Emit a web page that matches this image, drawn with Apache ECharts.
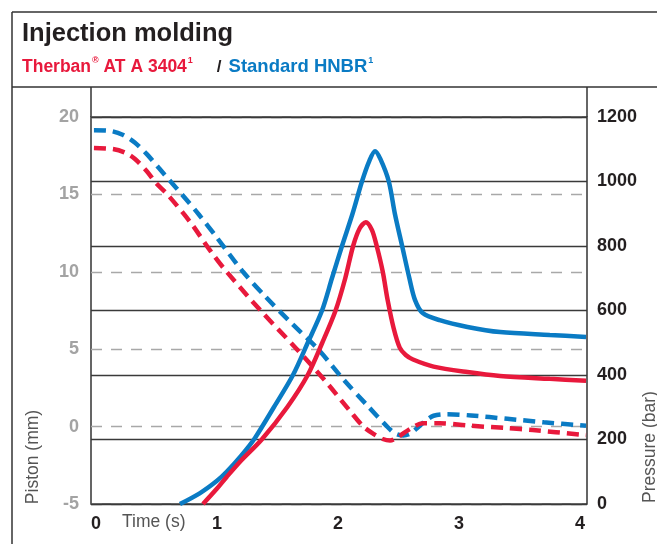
<!DOCTYPE html>
<html>
<head>
<meta charset="utf-8">
<script src="https://cdn.jsdelivr.net/npm/echarts@6/dist/echarts.min.js"></script>
<style>
html,body{margin:0;padding:0;background:#fff;}
#chart{width:657px;height:544px;}
</style>
</head>
<body>
<div id="chart"></div>
<script>
// ---- data ----
const xTickLabels = [0, 1, 2, 3, 4];
// Standard HNBR (blue) pressure, bar
const blueP_t = [0.694,0.86,1.0,1.08,1.2,1.314,1.47,1.628,1.75,1.868,1.95,2.033,2.12,2.198,2.26,2.306,2.35,2.42,2.47,2.53,2.59,2.636,2.70,2.84,3.07,3.34,3.75,4.05];
const blueP_v = [0,34,72,100,150,205,300,400,500,600,700,800,900,1000,1065,1094,1070,1000,900,800,700,633,592,570,549,533,524,518];
// Therban AT A 3404 (red) pressure, bar
const redP_t = [0.884,1.0,1.08,1.2,1.37,1.58,1.75,1.87,1.98,2.06,2.125,2.18,2.23,2.28,2.32,2.37,2.41,2.46,2.51,2.56,2.62,2.79,3.07,3.34,3.75,4.05];
const redP_v = [0,48,84,135,200,300,400,500,600,700,800,855,874,850,800,720,633,545,485,462,448,426,409,397,388,382];
// Standard HNBR (blue) piston, mm
const blueS_t = [-0.017,0.12,0.22,0.32,0.42,0.52,0.62,0.71,0.85,1.0,1.215,1.4,1.6,1.835,2.05,2.25,2.40,2.47,2.54,2.60,2.65,2.72,2.79,2.9,3.1,3.4,3.7,4.05];
const blueS_v = [19.15,19.1,18.85,18.35,17.6,16.7,15.8,15.0,13.7,12.2,10.0,8.4,6.8,5.0,3.0,1.3,0.05,-0.43,-0.58,-0.45,-0.12,0.35,0.7,0.8,0.72,0.5,0.28,0.05];
// Therban AT A 3404 (red) piston, mm
const redS_t = [-0.017,0.14,0.24,0.32,0.42,0.5,0.59,0.78,0.95,1.08,1.36,1.66,1.9,2.1,2.21,2.3,2.37,2.43,2.49,2.6,2.7,2.84,3.07,3.4,3.61,4.05];
const redS_v = [18.0,17.93,17.7,17.3,16.5,15.7,15.0,13.2,11.3,10.0,7.5,5.0,2.9,1.0,0.0,-0.5,-0.8,-0.9,-0.7,-0.13,0.22,0.22,0.07,-0.1,-0.22,-0.55];

const RED = '#e8193c';
const BLUE = '#0a7bc4';
const FONT = 'Liberation Sans, Arial, Helvetica, sans-serif';

function pairs(t, v){ return t.map((x,i)=>[x, v[i]]); }

const chart = echarts.init(document.getElementById('chart'));
const lineStyleFrame = {stroke:'#333', lineWidth:1.5};
chart.setOption({
  animation:false,
  backgroundColor:'#fff',
  grid:{left:91, right:70, top:117, bottom:40, show:true, borderColor:'#333', borderWidth:1.5, backgroundColor:'transparent'},
  xAxis:{
    type:'value', min:-0.0413, max:4.0579,
    axisLine:{show:false}, axisTick:{show:false}, splitLine:{show:false},
    axisLabel:{customValues:xTickLabels, color:'#231f20', fontWeight:'bold', fontSize:18, fontFamily:FONT, margin:11}
  },
  yAxis:[
    {type:'value', position:'left', min:-5, max:20, interval:5,
     axisLine:{show:false}, axisTick:{show:false},
     splitLine:{show:true, lineStyle:{color:'#a8a8a8', width:1.3, type:[11,9]}},
     axisLabel:{color:'#a3a3a3', fontWeight:'bold', fontSize:18, fontFamily:FONT, margin:12}},
    {type:'value', position:'right', min:0, max:1200, interval:200,
     axisLine:{show:false}, axisTick:{show:false},
     splitLine:{show:true, lineStyle:{color:'#3a3a3a', width:1.3}},
     axisLabel:{color:'#231f20', fontWeight:'bold', fontSize:18, fontFamily:FONT, margin:10,
       formatter:function(v){ return String(v); }}}
  ],
  series:[
    {type:'line', name:'Standard HNBR piston', yAxisIndex:0, data:pairs(blueS_t, blueS_v), smooth:0.3, showSymbol:false,
     lineStyle:{color:BLUE, width:4.5, type:[12,7]}, z:3},
    {type:'line', name:'Therban piston', yAxisIndex:0, data:pairs(redS_t, redS_v), smooth:0.3, showSymbol:false,
     lineStyle:{color:RED, width:4.5, type:[12,7]}, z:3},
    {type:'line', name:'Standard HNBR pressure', yAxisIndex:1, data:pairs(blueP_t, blueP_v), smooth:0.3, showSymbol:false,
     lineStyle:{color:BLUE, width:4.5}, z:4},
    {type:'line', name:'Therban pressure', yAxisIndex:1, data:pairs(redP_t, redP_v), smooth:0.3, showSymbol:false,
     lineStyle:{color:RED, width:4.5}, z:4}
  ],
  graphic:[
    {type:'line', shape:{x1:12, y1:12, x2:657, y2:12}, style:lineStyleFrame},
    {type:'line', shape:{x1:12, y1:12, x2:12, y2:544}, style:lineStyleFrame},
    {type:'line', shape:{x1:12, y1:87, x2:657, y2:87}, style:lineStyleFrame},
    {type:'line', shape:{x1:91, y1:87, x2:91, y2:117}, style:lineStyleFrame},
    {type:'line', shape:{x1:587, y1:87, x2:587, y2:117}, style:lineStyleFrame},
    {type:'text', left:22, top:21, style:{text:'Injection molding', fill:'#231f20', font:'bold 25.5px ' + FONT}},
    {type:'text', left:22, top:56, style:{
      text:'{r|Therban}{rs|®}{r| AT A 3404}{rs|1}{k|/}{b|Standard HNBR}{bs|1}',
      rich:{
        r:{fill:RED, font:'bold 17.5px ' + FONT, lineHeight:22},
        rs:{fill:RED, font:'bold 9px ' + FONT, verticalAlign:'top', lineHeight:22, padding:[0,0,10,1]},
        k:{fill:'#231f20', font:'bold 17px ' + FONT, lineHeight:22, padding:[0,7,0,24]},
        b:{fill:BLUE, font:'bold 18.5px ' + FONT, lineHeight:22},
        bs:{fill:BLUE, font:'bold 9px ' + FONT, verticalAlign:'top', lineHeight:22, padding:[0,0,10,1]}
      }}},
    {type:'text', left:122, top:513, style:{text:'Time (s)', fill:'#555', font:'17.5px ' + FONT}},
    {type:'text', x:33, y:457, rotation:Math.PI/2, style:{text:'Piston (mm)', fill:'#555', font:'17.5px ' + FONT, align:'center', verticalAlign:'middle'}},
    {type:'text', x:650, y:447, rotation:Math.PI/2, style:{text:'Pressure (bar)', fill:'#555', font:'17.5px ' + FONT, align:'center', verticalAlign:'middle'}}
  ]
});
</script>
</body>
</html>
